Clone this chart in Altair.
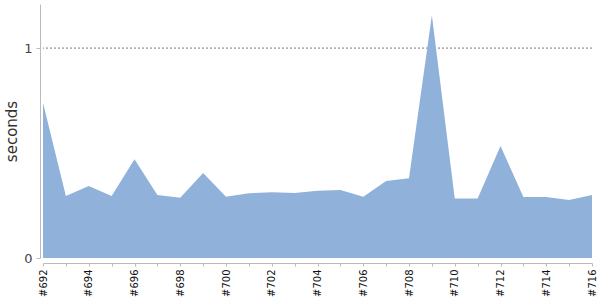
import altair as alt
import pandas as pd

builds = [f"#{n}" for n in range(692, 717)]
seconds = [0.740, 0.295, 0.343, 0.295, 0.471, 0.300, 0.287, 0.405, 0.292, 0.308,
           0.313, 0.310, 0.320, 0.324, 0.292, 0.367, 0.380, 1.157, 0.284, 0.284,
           0.533, 0.290, 0.290, 0.276, 0.300]
ref_values = [1]

df = pd.DataFrame({"build": builds, "seconds": seconds})
ref = pd.DataFrame({"v": ref_values})

label_expr = "indexof(" + str([b for i, b in enumerate(builds) if i % 2 == 0]).replace("'", "\"") + ", datum.value) >= 0 ? datum.value : ''"

xenc = alt.X("build:O", sort=builds,
             scale=alt.Scale(type="point", padding=0),
             axis=alt.Axis(title=None, labelAngle=-90, labelAlign="right", labelBaseline="middle",
                           labelExpr=label_expr, labelOverlap=False, labelFont="DejaVu Sans",
                           labelFontSize=10, labelColor="#111", labelPadding=3,
                           domainColor="#bbbbbb", tickColor="#bbbbbb", tickSize=3,
                           offset=5, grid=False))

area = alt.Chart(df).mark_area(color="#8fb1da", opacity=1, interpolate="linear").encode(
    x=xenc,
    y=alt.Y("seconds:Q", scale=alt.Scale(domain=[0, 1.21], nice=False, zero=True),
            axis=alt.Axis(title="seconds", values=[0, 1], format="d", grid=False,
                          labelFont="DejaVu Sans", labelFontSize=13, labelColor="#444",
                          titleFont="DejaVu Sans", titleFontSize=15, titleFontWeight="normal",
                          titleColor="#333", titlePadding=4, domainColor="#bbbbbb",
                          tickColor="#bbbbbb", tickSize=4, offset=3, labelPadding=4))
)

rule = alt.Chart(ref).mark_rule(color="#777", strokeDash=[2, 2], strokeWidth=1).encode(
    y=alt.Y("v:Q", scale=alt.Scale(domain=[0, 1.21], nice=False))
)

chart = alt.layer(rule, area).properties(
    width=549, height=254,
    autosize=alt.AutoSizeParams(type="none"),
    padding={"left": 43, "top": 4, "right": 8, "bottom": 42},
).configure_view(stroke=None)

chart.save("out.html", embed_options={"renderer": "svg", "actions": False})
